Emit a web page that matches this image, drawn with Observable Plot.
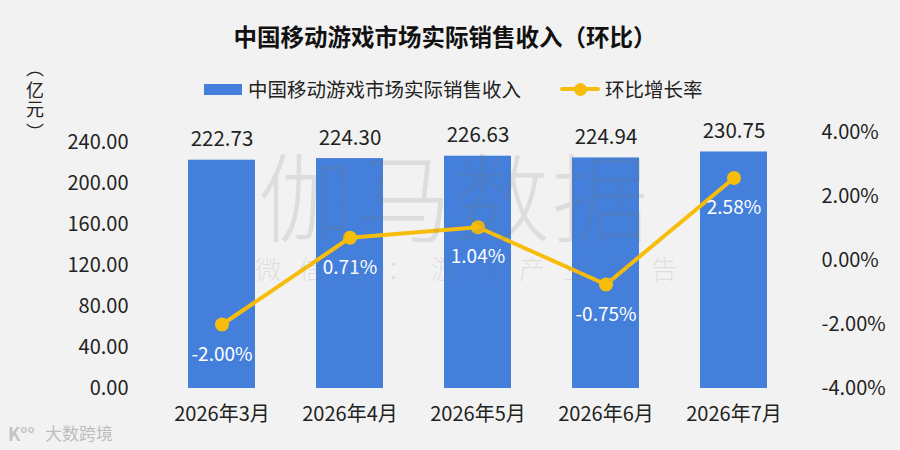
<!DOCTYPE html>
<html>
<head>
<meta charset="utf-8">
<script src="https://cdn.jsdelivr.net/npm/d3@7"></script>
<script src="https://cdn.jsdelivr.net/npm/@observablehq/plot@0.6"></script>
<style>
  html, body { margin: 0; padding: 0; background: #f2f2f2; }
  #wrap { position: relative; width: 900px; height: 450px; overflow: hidden; background: #f2f2f2;
          font-family: "Noto Sans CJK SC", "Noto Sans", sans-serif; color: #222; }
  .abs { position: absolute; white-space: nowrap; }
  #title { left: 0; width: 890px; top: 21px; line-height: 30px; text-align: center; font-size: 23.5px; font-weight: bold; color: #111; }
  .legtxt { font-size: 19.5px; line-height: 26px; top: 76px; color: #222; }
  #unit { left: 25px; top: 70px; width: 20px; font-size: 18px; line-height: 19px; color: #222; text-align: center;
          display: flex; flex-direction: column; align-items: center; }
  #unit .p { display: block; height: 10px; line-height: 10px; font-size: 18px; position: relative; }
  #unit .p1 { top: -8px; }
  #unit .p2 { top: 8px; }
  #plot { position: absolute; left: 0; top: 110px; }
  .wm { pointer-events: none; color: rgba(110,110,110,0.16); z-index: 5; }
  #wm1 { left: 258px; top: 138px; font-size: 96px; line-height: 110px; letter-spacing: 2px; font-weight: 300; }
  #wm2 { left: 255px; top: 250px; font-size: 26px; line-height: 36px; letter-spacing: 18px; font-weight: 300; }
  #logoicon { left: 8px; top: 421px; font-size: 18px; line-height: 24px; color: #c4c4c4; font-weight: bold; }
  #logo { left: 45px; top: 421px; font-size: 17px; line-height: 24px; color: #bdbdbd; }
</style>
</head>
<body>
<div id="wrap">
  <div id="title" class="abs">中国移动游戏市场实际销售收入（环比）</div>
  <div class="abs" style="left:204px;top:84px;width:38px;height:11px;background:#4480db;"></div>
  <div class="abs legtxt" style="left:248px;">中国移动游戏市场实际销售收入</div>
  <div class="abs" style="left:560px;top:87px;width:40px;height:4px;background:#f7bd0b;border-radius:2px;"></div>
  <div class="abs" style="left:573.5px;top:82.5px;width:13px;height:13px;background:#f7bd0b;border-radius:50%;"></div>
  <div class="abs legtxt" style="left:605px;">环比增长率</div>
  <div id="unit" class="abs"><span class="p p1">︵</span><span>亿</span><span>元</span><span class="p p2">︶</span></div>
  <div id="plot"></div>
  <div id="wm1" class="abs wm">伽马数据</div>
  <div id="wm2" class="abs wm">微信号：游戏产业报告</div>
  <div id="logoicon" class="abs">K°°</div>
  <div id="logo" class="abs">大数跨境</div>
</div>
<script>
// ---- data ----
const months = ["2026年3月", "2026年4月", "2026年5月", "2026年6月", "2026年7月"];
const revenue = [222.73, 224.30, 226.63, 224.94, 230.75];
const growth = [-2.00, 0.71, 1.04, -0.75, 2.58];
const leftTicks = [0, 40, 80, 120, 160, 200, 240];
const rightTicks = [-4, -2, 0, 2, 4];

// right axis (%) mapped onto the left-axis units
const toLeft = p => (128 + 32 * p) * 240 / 246;
const yMax = toLeft(4);

const rows = months.map((m, i) => ({ month: m, revenue: revenue[i], growth: growth[i], gy: toLeft(growth[i]) }));

const blue = "#4480db";
const yellow = "#f7bd0b";
const font = "Noto Sans CJK SC";

const chart = Plot.plot({
  width: 900,
  height: 340,
  marginLeft: 125,
  marginRight: 69,
  marginTop: 22,
  marginBottom: 62,
  style: { background: "transparent", fontFamily: font, color: "#222", overflow: "visible" },
  x: { type: "band", domain: months, padding: 0.473, axis: null },
  y: { domain: [0, yMax], axis: null },
  marks: [
    Plot.barY(rows, { x: "month", y: "revenue", fill: blue }),
    Plot.text(rows, { x: "month", y: "revenue", text: d => d.revenue.toFixed(2), dy: -20.5, fontSize: 20.5, fill: "#222" }),
    Plot.line(rows, { x: "month", y: "gy", stroke: yellow, strokeWidth: 4 }),
    Plot.dot(rows, { x: "month", y: "gy", r: 7, fill: yellow }),
    Plot.text(rows, { x: "month", y: "gy", text: d => d.growth.toFixed(2) + "%", dy: 30, fontSize: 19, fill: "#fff" }),
    Plot.text(leftTicks, { y: d => d, text: d => d.toFixed(2), frameAnchor: "left", textAnchor: "end", dx: 3, fontSize: 20, fill: "#222" }),
    Plot.text(rightTicks, { y: d => toLeft(d), text: d => d.toFixed(2) + "%", frameAnchor: "right", textAnchor: "start", dx: -10, fontSize: 20, fill: "#222" }),
    Plot.text(months, { x: d => d, text: d => d, frameAnchor: "bottom", dy: 32, fontSize: 20, fill: "#222" })
  ]
});
document.getElementById("plot").appendChild(chart);
</script>
</body>
</html>
